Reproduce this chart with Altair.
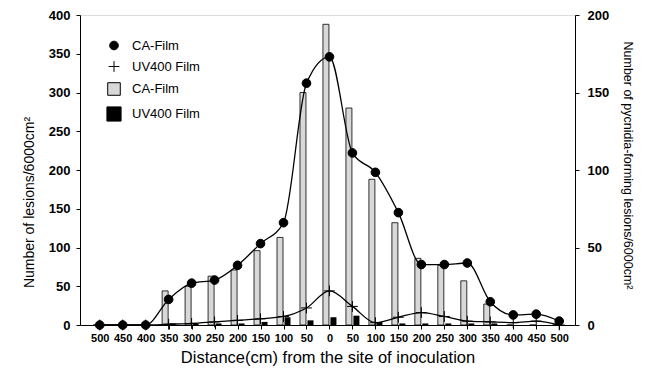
import altair as alt
import pandas as pd

# distance labels (cm) from the site of inoculation, left side then right side
distance_labels = [500, 450, 400, 350, 300, 250, 200, 150, 100, 50, 0,
                   50, 100, 150, 200, 250, 300, 350, 400, 450, 500]
# number of lesions / 6000 cm2 (left axis)
ca_lesions = [0, 0, 0, 33, 54, 58, 77, 105, 132, 312, 346,
              222, 197, 145, 78, 78, 80, 30, 13, 14, 5]
uv_lesions = [0, 0, 0, 1, 2, 4, 6, 8, 11, 22, 44,
              24, 3, 10, 16, 11, 5, 4, 3, 5, 0]
# number of pycnidia-forming lesions / 6000 cm2 (right axis)
ca_pycnidia = [0, 0, 0, 22, 25, 31.5, 35.5, 48, 56.5, 150, 194,
               140, 94, 66, 43, 38.5, 28.5, 13.5, 0, 0, 0]
uv_pycnidia = [0, 0, 0, 1, 1, 1, 1, 2, 5, 3, 5,
               6, 2, 1, 1, 1, 1, 1, 0, 0, 0]

pos = list(range(len(distance_labels)))
keys = ["CA-Film", "UV400 Film", "CA-Film ", "UV400 Film "]

df_bars = pd.DataFrame({"pos": pos, "ca": ca_pycnidia, "uv": uv_pycnidia})
df_lines = pd.concat([
    pd.DataFrame({"pos": pos, "value": ca_lesions, "series": keys[0]}),
    pd.DataFrame({"pos": pos, "value": uv_lesions, "series": keys[1]}),
])

FONT = "Liberation Sans"
label_arr = "[" + ",".join("'%d'" % d for d in distance_labels) + "]"

x = alt.X("pos:Q",
          scale=alt.Scale(domain=[-0.64, 20.47], nice=False, zero=False),
          axis=alt.Axis(values=pos, labelExpr=label_arr + "[datum.value]",
                        title="Distance(cm) from the site of inoculation",
                        labelFont=FONT, labelFontSize=11, labelFontWeight="bold",
                        labelColor="black", labelPadding=3, tickSize=4,
                        tickColor="black", domainColor="black", grid=False,
                        titleFont=FONT, titleFontSize=16.5, titleFontWeight="normal",
                        titleColor="black", titlePadding=6, labelOverlap=False))

yr_scale = alt.Scale(domain=[0, 200], nice=False)
yr_axis = alt.Axis(orient="right", values=[0, 50, 100, 150, 200],
                   title="Number of pycnidia-forming lesions/6000cm²",
                   labelFont=FONT, labelFontSize=13, labelFontWeight="bold",
                   labelColor="black", labelPadding=8, tickSize=4,
                   tickColor="black", domainColor="black", grid=False,
                   titleFont=FONT, titleFontSize=12.5, titleFontWeight="normal",
                   titleColor="black", titlePadding=12, titleY=150)

yl_scale = alt.Scale(domain=[0, 400], nice=False)
yl_axis = alt.Axis(orient="left", values=list(range(0, 401, 50)),
                   title="Number of lesions/6000cm²",
                   labelFont=FONT, labelFontSize=13, labelFontWeight="bold",
                   labelColor="black", labelPadding=6, tickSize=4,
                   tickColor="black", domainColor="black", grid=False,
                   titleFont=FONT, titleFontSize=14, titleFontWeight="normal",
                   titleColor="black", titlePadding=12, titleY=187)

bars_ca = alt.Chart(df_bars).mark_bar(
    width=6, xOffset=-3.5, fill="#d8d8d8", stroke="black", strokeWidth=0.8
).encode(x=x, y=alt.Y("ca:Q", scale=yr_scale, axis=yr_axis))

bars_uv = alt.Chart(df_bars).mark_bar(
    width=6, xOffset=4, fill="black"
).encode(x=x, y=alt.Y("uv:Q", scale=yr_scale, axis=yr_axis))

bars = alt.layer(bars_ca, bars_uv)

yl = alt.Y("value:Q", scale=yl_scale, axis=yl_axis)

lines = alt.Chart(df_lines).mark_line(
    color="black", strokeWidth=1.3, interpolate="monotone"
).encode(x=x, y=yl, detail="series:N")

leg = alt.Legend(title=None, orient="none", legendX=26, legendY=24,
                 labelFont=FONT, labelFontSize=13, labelColor="black",
                 labelOffset=10, rowPadding=6, symbolStrokeWidth=1)

points = alt.Chart(df_lines).mark_point(opacity=1, strokeWidth=1).encode(
    x=x, y=yl,
    shape=alt.Shape("series:N", legend=leg, scale=alt.Scale(
        domain=keys, range=["circle", "M-1,0H1M0,-1V1", "square", "square"])),
    fill=alt.Fill("series:N", legend=leg, scale=alt.Scale(
        domain=keys, range=["black", "transparent", "#d8d8d8", "black"])),
    stroke=alt.Stroke("series:N", legend=leg, scale=alt.Scale(
        domain=keys, range=["black", "black", "black", "black"])),
    size=alt.Size("series:N", legend=leg, scale=alt.Scale(
        domain=keys, range=[75, 200, 90, 90])),
)

left = alt.layer(lines, points)

chart = alt.layer(bars, left).resolve_scale(y="independent").properties(
    width=495, height=310,
    autosize=alt.AutoSizeParams(type="none"),
    padding={"left": 72, "top": 7, "right": 62, "bottom": 48},
).configure_view(stroke="black", strokeWidth=1).configure(background="white")

chart.save("out.html", embed_options={"renderer": "svg", "actions": False})
